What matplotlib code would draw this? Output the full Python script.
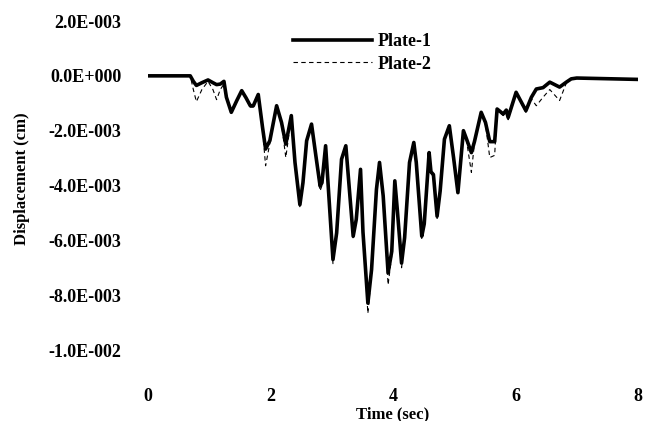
import numpy as np
import matplotlib
matplotlib.use("Agg")
import matplotlib.pyplot as plt

# time (sec) and displacement (x 1e-3 cm)
time = [0.00, 0.69, 0.74, 0.79, 0.88, 0.98, 1.06, 1.12, 1.18, 1.24, 1.28, 1.36,
        1.45, 1.53, 1.60, 1.67, 1.72, 1.80, 1.87, 1.92, 1.99, 2.10, 2.18, 2.25,
        2.34, 2.40, 2.48, 2.53, 2.59, 2.67, 2.74, 2.81, 2.84, 2.90, 2.96, 3.02,
        3.08, 3.16, 3.23, 3.29, 3.35, 3.40, 3.47, 3.51, 3.59, 3.65, 3.73, 3.78,
        3.84, 3.92, 3.98, 4.03, 4.07, 4.14, 4.19, 4.27, 4.34, 4.38, 4.47, 4.51,
        4.59, 4.62, 4.66, 4.72, 4.77, 4.84, 4.92, 4.99, 5.06, 5.15, 5.20, 5.28,
        5.33, 5.44, 5.51, 5.58, 5.66, 5.70, 5.80, 5.85, 5.88, 6.01, 6.17, 6.26,
        6.34, 6.45, 6.56, 6.72, 6.83, 6.91, 7.00, 8.00]

plate1 = [0.00, 0.00, -0.20, -0.35, -0.25, -0.15, -0.25, -0.32, -0.30, -0.20, -0.78, -1.33,
          -0.90, -0.54, -0.80, -1.09, -1.09, -0.68, -1.88, -2.67, -2.36, -1.09, -1.70, -2.49,
          -1.45, -3.16, -4.70, -3.90, -2.37, -1.76, -2.90, -4.02, -3.90, -2.55, -4.63, -6.70,
          -5.73, -3.04, -2.55, -4.20, -5.85, -5.24, -3.41, -5.70, -8.29, -7.07, -4.14, -3.16,
          -4.38, -7.19, -6.40, -3.83, -4.87, -6.83, -5.90, -3.16, -2.43, -3.16, -5.85, -5.40,
          -2.80, -3.50, -3.60, -5.12, -4.20, -2.31, -1.82, -3.00, -4.26, -2.00, -2.30, -2.80,
          -2.40, -1.33, -1.70, -2.40, -2.40, -1.21, -1.39, -1.25, -1.52, -0.60, -1.27, -0.78,
          -0.48, -0.43, -0.23, -0.41, -0.23, -0.11, -0.08, -0.13]

plate2 = [0.00, 0.00, -0.50, -0.94, -0.50, -0.20, -0.50, -0.87, -0.50, -0.30, -0.82, -1.38,
          -0.93, -0.56, -0.84, -1.14, -1.14, -0.72, -1.98, -3.28, -2.45, -1.12, -1.76, -2.98,
          -1.50, -3.22, -4.80, -3.95, -2.40, -1.80, -2.98, -4.20, -4.00, -2.60, -4.72, -6.85,
          -5.80, -3.08, -2.58, -4.28, -5.95, -5.30, -3.45, -5.80, -8.66, -7.20, -4.20, -3.20,
          -4.45, -7.62, -6.55, -3.88, -4.95, -7.00, -6.00, -3.20, -2.46, -3.22, -5.95, -5.48,
          -2.84, -3.56, -3.68, -5.20, -4.26, -2.35, -1.86, -3.06, -4.35, -2.04, -2.36, -3.52,
          -2.46, -1.36, -1.76, -2.98, -2.90, -1.25, -1.45, -1.30, -1.60, -0.64, -1.33, -0.84,
          -1.09, -0.78, -0.50, -0.90, -0.26, -0.12, -0.08, -0.13]

ytick_vals = [2e-3, 0.0, -2e-3, -4e-3, -6e-3, -8e-3, -1e-2]
ytick_labels = ["2.0E-003", "0.0E+000", "-2.0E-003", "-4.0E-003",
                "-6.0E-003", "-8.0E-003", "-1.0E-002"]
xtick_vals = [0, 2, 4, 6, 8]

plt.rcParams['font.family'] = ['Liberation Serif', 'DejaVu Serif']
plt.rcParams['font.weight'] = 'bold'

fig = plt.figure(figsize=(6.54, 4.21), dpi=100)
ax = fig.add_axes([0.2263, 0.1686, 0.7492, 0.7815])

t = np.array(time)
ax.plot(t, np.array(plate2) * 1e-3, color='black', lw=0.8, ls=(0, (4, 3)), label='Plate-2')
ax.plot(t, np.array(plate1) * 1e-3, color='black', lw=2.6, label='Plate-1')

ax.set_xlim(0, 8)
ax.set_ylim(-1e-2, 2e-3)
ax.set_xticks(xtick_vals)
ax.set_xticklabels([str(v) for v in xtick_vals])
ax.set_yticks(ytick_vals)
ax.set_yticklabels(ytick_labels)
ax.tick_params(axis='both', length=0, labelsize=13)
ax.tick_params(axis='x', pad=27)
ax.tick_params(axis='y', pad=19)
for s in ax.spines.values():
    s.set_visible(False)

ax.set_xlabel('Time (sec)', fontsize=12, fontweight='bold', labelpad=1)
ax.set_ylabel('Displacement (cm)', fontsize=12, fontweight='bold')
ax.yaxis.set_label_coords(-0.24, 0.52)

handles, labels = ax.get_legend_handles_labels()
ax.legend(handles[::-1], labels[::-1], loc='upper left', bbox_to_anchor=(0.296, 0.963),
          frameon=False, handlelength=4.4, handletextpad=0.3, labelspacing=0.3,
          borderpad=0, borderaxespad=0, prop={'weight': 'bold', 'size': 13})

fig.savefig('out.png', dpi=100)
